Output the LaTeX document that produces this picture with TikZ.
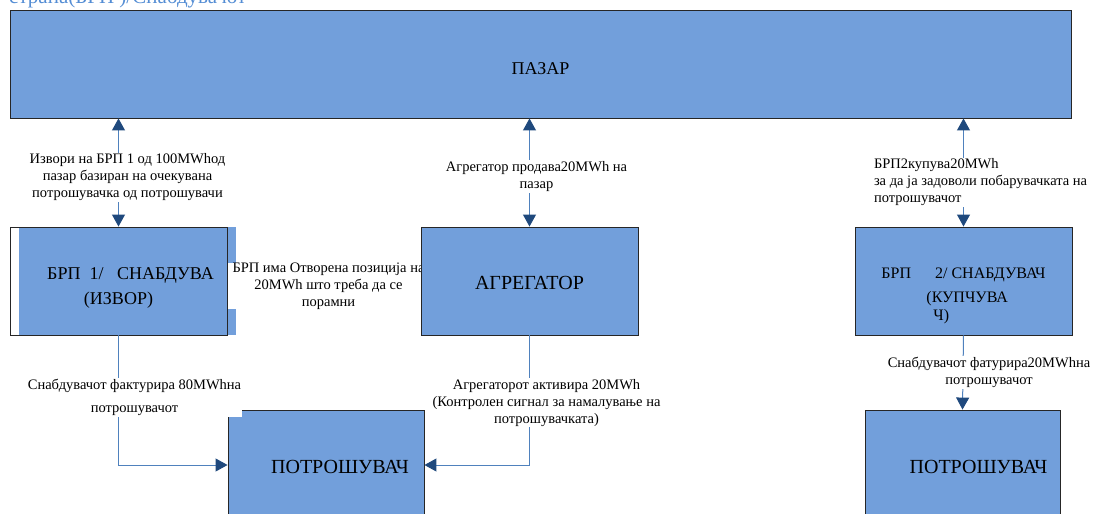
\documentclass[tikz,border=0pt]{standalone}
\usepackage{fontspec}
\setmainfont{Liberation Serif}
\usetikzlibrary{positioning}
\usetikzlibrary{arrows.meta}
\definecolor{boxblue}{RGB}{114,159,219}
\definecolor{linkblue}{RGB}{79,129,189}
\definecolor{tipblue}{RGB}{31,73,125}
\definecolor{headblue}{RGB}{84,141,212}
\tikzset{block/.style={rectangle,draw=black!85,fill=boxblue,line width=0.9pt,inner sep=0pt,font=\fontsize{20}{23}\selectfont},
  msg/.style={fill=white,inner sep=1pt,align=center,font=\fontsize{14.5}{17}\selectfont},
  link/.style={draw=linkblue,line width=1pt},
  onetip/.style={-{Triangle[length=12pt,width=13pt,color=tipblue]}},
  twotips/.style={{Triangle[length=12pt,width=13pt,color=tipblue]}-{Triangle[length=12pt,width=13pt,color=tipblue]}},}

\begin{document}
\begin{tikzpicture}[x=1pt, y=-1pt]
	\useasboundingbox (0,0) rectangle (1109,514);
	\clip (0,0) rectangle (1109,514);

	% heading, cut off at the top edge
	\node[anchor=base west, inner sep=0pt, text=headblue, font=\fontsize{21}{24}\selectfont] (heading) at (9,4) {страна(БРП )/Снабдувачот};

	\node[block, minimum width=1061pt, minimum height=108pt, font=\fontsize{18}{21}\selectfont] (market) at (540.5,64) {\rule{0pt}{22pt}ПАЗАР};
	\fill[boxblue] (19,227) rectangle (236,335);
	% white patch between the two boxes
	\node[msg, minimum width=193pt, minimum height=45pt, inner sep=0pt] (openpos) at (325.5,286) {\hspace*{6pt}БРП има Отворена позиција на\\\hspace*{6pt}20MWh што треба да се\\\hspace*{6pt}порамни};
	\node[block, fill=none, minimum width=217pt, minimum height=108pt, align=center, font=\fontsize{18}{21}\selectfont] (brp1) at (118.5,281) {\rule{0pt}{25pt}\hspace*{24pt}БРП\ \ 1/\ \ \ СНАБДУВА\\[4pt](ИЗВОР)};
	\node[block, minimum width=217pt, minimum height=108pt] (agr) at (529.5,281) {\rule{0pt}{18pt}АГРЕГАТОР};
	\node[block, minimum width=217pt, minimum height=108pt, align=left, font=\fontsize{16}{18}\selectfont] (brp2) at (963.5,281) {\rule{0pt}{40pt}БРП\ \ \ \ \ \ 2/ СНАБДУВАЧ\\[6pt]\hspace*{45pt}(КУПЧУВА\\\hspace*{52pt}Ч)};
	\node[block, minimum width=196pt, minimum height=110pt] (cons1) at (326,465) {\hspace*{28pt}\rule{0pt}{18pt}ПОТРОШУВАЧ};
	\node[block, minimum width=195pt, minimum height=110pt] (cons2) at (962.5,465) {\hspace*{32pt}\rule{0pt}{18pt}ПОТРОШУВАЧ};

	\draw[link, twotips] (brp1.north |- market.south) -- node[msg, xshift=9pt, yshift=-5pt] (buy1) {Извори на БРП 1 од 100MWhод\\пазар базиран на очекувана\\потрошувачка од потрошувачи} (brp1.north);
	\draw[link, twotips] (agr.north |- market.south) -- node[msg, xshift=7pt, yshift=-4pt] (sell) {Агрегатор продава20MWh на\\пазар} (agr.north);
	\draw[link, twotips] (brp2.north |- market.south) -- node[msg, align=left, anchor=west, xshift=-91pt, yshift=-10pt] (buy2) {БРП2купува20MWh\\за да ја задоволи побарувачката на\\потрошувачот} (brp2.north);

	\draw[link, onetip] (brp1.south) |- node[msg, pos=0.24, xshift=16pt] (bill1) {Снабдувачот фактурира 80MWhна\\[6pt]потрошувачот} (cons1.west);
	\draw[link, onetip] (agr.south) |- node[msg, pos=0.26, xshift=17pt] (signal) {Агрегаторот активира 20MWh\\(Контролен сигнал за намалување на\\потрошувачката)} (cons1.east);
	\draw[link, onetip] (brp2.south) -- node[msg, xshift=26pt] (bill2) {Снабдувачот фатурира20MWhна\\потрошувачот} (cons2.north);
\end{tikzpicture}
\end{document}
